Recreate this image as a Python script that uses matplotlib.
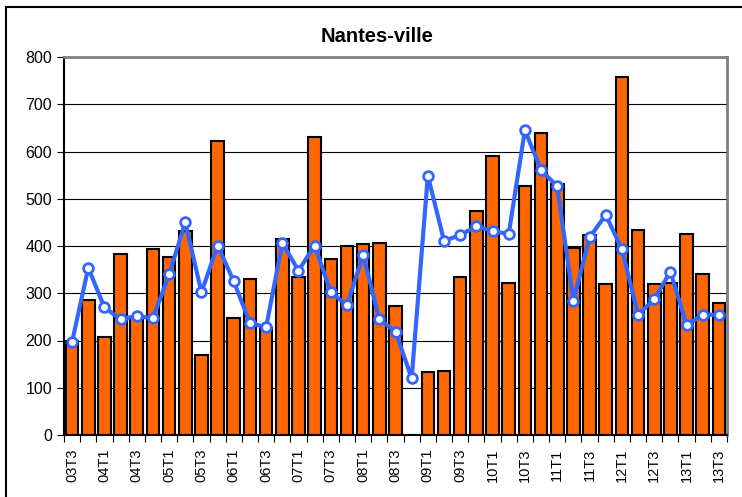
import matplotlib.pyplot as plt
import numpy as np
from matplotlib.patches import Rectangle

plt.rcParams['font.family'] = ['Liberation Sans', 'DejaVu Sans']

# quarters 03T3 .. 13T3
quarters = []
for yr in range(3, 14):
    for q in range(1, 5):
        if (yr == 3 and q < 3) or (yr == 13 and q > 3):
            continue
        quarters.append('%02dT%d' % (yr, q))

bars = [200, 286, 207, 383, 247, 394, 377, 432, 169, 623,
        248, 330, 226, 415, 335, 630, 372, 399, 405, 406,
        272, 0, 133, 136, 335, 474, 590, 322, 528, 640,
        532, 396, 423, 320, 757, 434, 319, 322, 425, 341, 279]
line = [197, 354, 270, 245, 252, 247, 340, 450, 302, 401,
        325, 237, 228, 406, 348, 401, 302, 275, 381, 245,
        219, 120, 549, 411, 423, 442, 432, 425, 645, 561,
        526, 284, 418, 466, 393, 255, 287, 346, 233, 254, 255]

fig = plt.figure(figsize=(7.42, 4.97), dpi=100)
ax = fig.add_axes([64 / 742, 1 - 435 / 497, (727 - 64) / 742, (435 - 57) / 497])

x = np.arange(len(quarters))
ax.bar(x, bars, width=0.78, color='#FF6600', edgecolor='black', linewidth=1.5, zorder=2)
ax.plot(x, line, color='#3366FF', linewidth=3, marker='o', markersize=7,
        markerfacecolor='white', markeredgecolor='#3366FF', markeredgewidth=2, zorder=3)

ax.set_xlim(-0.5, len(quarters) - 0.5)
ax.set_ylim(0, 800)
ax.set_yticks(range(0, 801, 100))
ax.yaxis.grid(True, color='black', linewidth=0.8, zorder=0)
ax.set_axisbelow(True)

# ticks on category boundaries, labels every other quarter
ax.set_xticks(np.arange(len(quarters) + 1) - 0.5)
ax.set_xticklabels([])
ax.set_xticks(x[::2], minor=True)
ax.set_xticklabels(quarters[::2], minor=True, rotation=90, fontsize=10.5)
ax.tick_params(axis='x', which='minor', length=0, pad=10)
ax.tick_params(axis='x', which='major', length=5, direction='out')
ax.tick_params(axis='y', length=5, labelsize=11.5)

for s in ['top', 'right']:
    ax.spines[s].set_color('#808080')
    ax.spines[s].set_linewidth(2)
ax.spines['left'].set_linewidth(1.5)
ax.spines['bottom'].set_linewidth(1.5)

fig.text(377 / 742, 1 - 37 / 497, 'Nantes-ville', ha='center', va='center',
         fontsize=14.5, fontweight='bold')

# outer chart frame
fig.patches.append(Rectangle((6 / 742, -0.1), 2, 1.1 - 7 / 497, transform=fig.transFigure,
                             fill=False, edgecolor='black', linewidth=1.5))

fig.savefig('out.png', dpi=100)
